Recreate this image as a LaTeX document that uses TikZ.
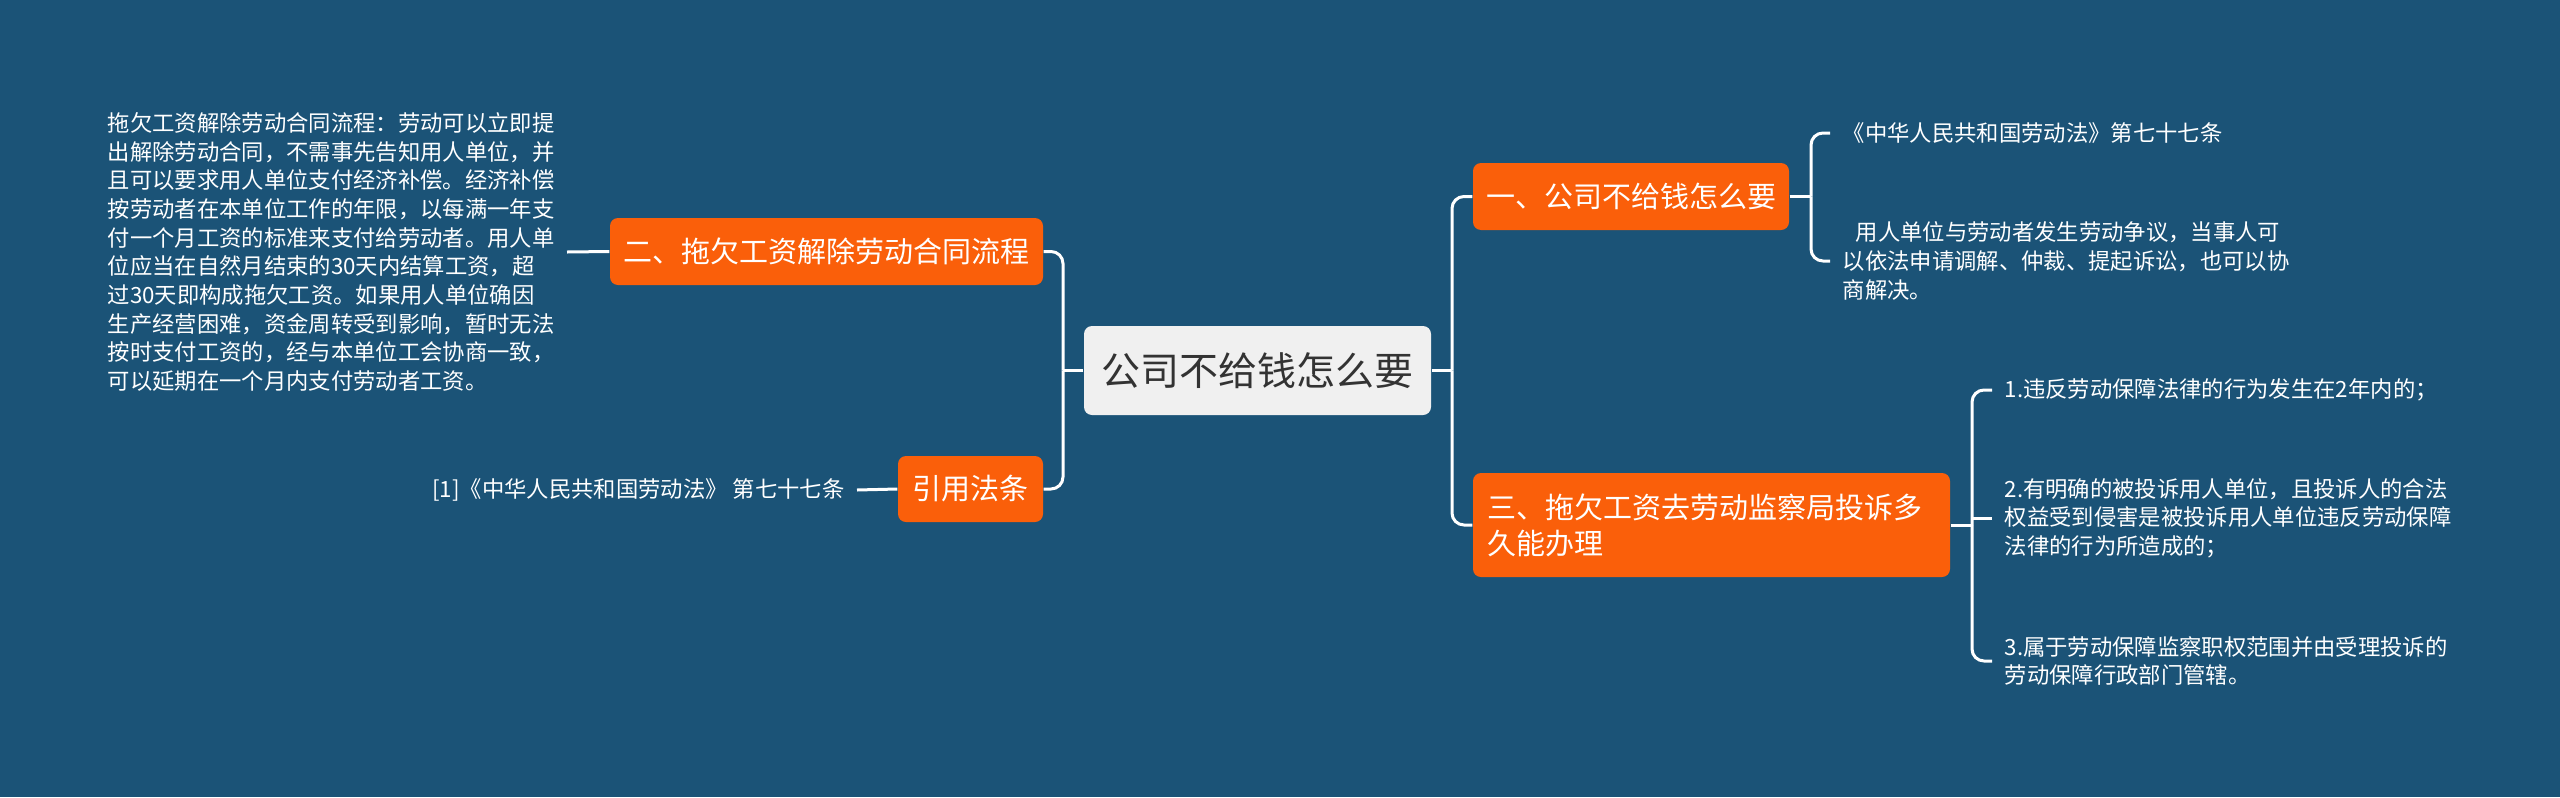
\documentclass[tikz,border=0pt]{standalone}
\usepackage{fontspec}
\setmainfont{Noto Sans CJK SC}
\definecolor{bg}{HTML}{1B5377}
\definecolor{orng}{HTML}{FA5F0A}
\definecolor{cbox}{HTML}{F0F0F0}
\definecolor{ctext}{HTML}{333333}
\begin{document}
\begin{tikzpicture}[x=0.3pt,y=-0.3pt,
  obox/.style={fill=orng, rounded corners=2.4pt, text=white, inner sep=0pt, align=center,
    font=\fontsize{8.7pt}{10.8pt}\selectfont},
  ctr/.style={fill=cbox, rounded corners=2.4pt, text=ctext, inner sep=0pt,
    font=\fontsize{11.7pt}{14pt}\selectfont},
  leaf/.style={text=white, align=left, inner xsep=3.6pt, inner ysep=0pt,
    font=\fontsize{6.7pt}{8.6pt}\selectfont},
  conn/.style={draw=white, line width=0.9pt, rounded corners=3.6pt}]
\fill[bg] (0,0) rectangle (2560,797);
\useasboundingbox (0,0) rectangle (2560,797);

% main nodes
\node[ctr, minimum width=104.1pt, minimum height=26.7pt] (root) at (1257.5,370.5) {公司不给钱怎么要};
\node[obox, minimum width=129.9pt, minimum height=20.1pt] (b2) at (826.5,251.5) {二、拖欠工资解除劳动合同流程};
\node[obox, minimum width=43.5pt, minimum height=19.8pt] (bref) at (970.5,489) {引用法条};
\node[obox, minimum width=94.8pt, minimum height=20.1pt] (b1) at (1631,196.5) {一、公司不给钱怎么要};
\node[obox, minimum width=143.1pt, minimum height=31.2pt, align=left, text width=134.7pt] (b3) at (1711.5,525) {三、拖欠工资去劳动监察局投诉多\\久能办理};

% leaves
\node[leaf, anchor=east] (l2) at (567,252) {拖欠工资解除劳动合同流程：劳动可以立即提\\
出解除劳动合同，不需事先告知用人单位，并\\
且可以要求用人单位支付经济补偿。经济补偿\\
按劳动者在本单位工作的年限，以每满一年支\\
付一个月工资的标准来支付给劳动者。用人单\\
位应当在自然月结束的30天内结算工资，超\\
过30天即构成拖欠工资。如果用人单位确因\\
生产经营困难，资金周转受到影响，暂时无法\\
按时支付工资的，经与本单位工会协商一致，\\
可以延期在一个月内支付劳动者工资。};
\node[leaf, anchor=east] (lref) at (857,490) {[1]《中华人民共和国劳动法》 第七十七条};
\node[leaf, anchor=west] (l1a) at (1830,133) {《中华人民共和国劳动法》第七十七条};
\node[leaf, anchor=west] (l1b) at (1830,261) {\hspace*{3.9pt}用人单位与劳动者发生劳动争议，当事人可\\
以依法申请调解、仲裁、提起诉讼，也可以协\\
商解决。};
\node[leaf, anchor=west] (l3a) at (1992,390) {1.违反劳动保障法律的行为发生在2年内的；};
\node[leaf, anchor=west] (l3b) at (1992,518) {2.有明确的被投诉用人单位，且投诉人的合法\\
权益受到侵害是被投诉用人单位违反劳动保障\\
法律的行为所造成的；};
\node[leaf, anchor=west] (l3c) at (1992,661) {3.属于劳动保障监察职权范围并由受理投诉的\\
劳动保障行政部门管辖。};

% junctions
\coordinate (jl) at (1063,370.5);
\coordinate (jr) at (1452,370.5);
\coordinate (j1) at (1811,196.5);
\coordinate (j3) at (1972,525);

% connectors
\draw[conn] (root.west) -- (jl);
\draw[conn] (jl) |- (b2.east);
\draw[conn] (jl) |- (bref.east);
\draw[conn] (root.east) -- (jr);
\draw[conn] (jr) |- (b1.west);
\draw[conn] (jr) |- (b3.west);
\draw[conn] (b1.east) -- (j1);
\draw[conn] (j1) |- (l1a.west);
\draw[conn] (j1) |- (l1b.west);
\draw[conn] (b3.east) -- (j3);
\draw[conn] (j3) |- (l3a.west);
\draw[conn] (j3 |- l3b.west) -- (l3b.west);
\draw[conn] (j3) |- (l3c.west);
\draw[conn] (b2.west) -- (l2.east);
\draw[conn] (bref.west) -- (lref.east);
\end{tikzpicture}
\end{document}
